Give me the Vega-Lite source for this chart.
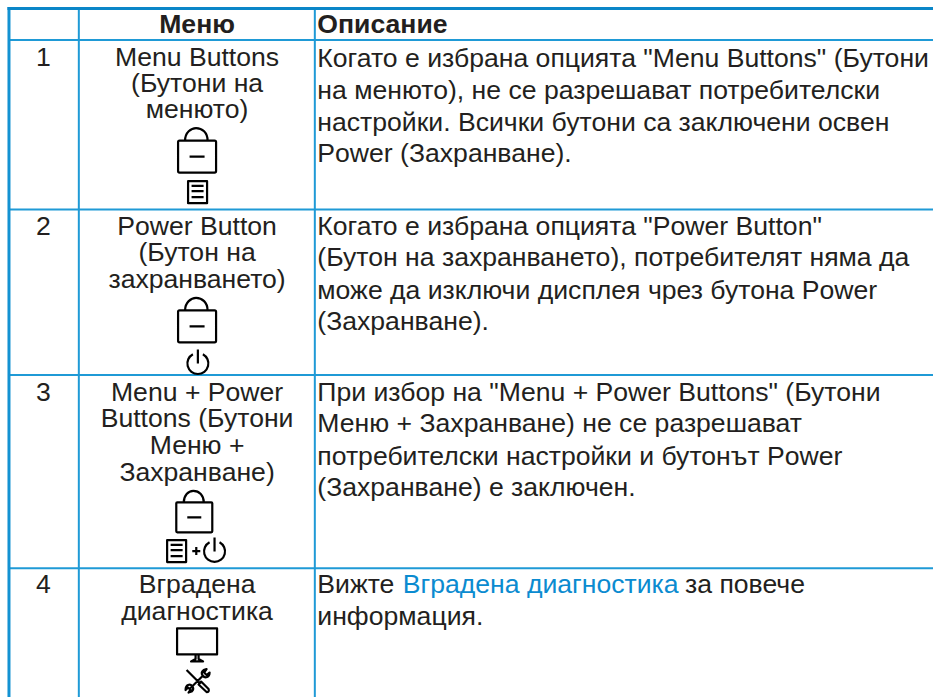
{
"$schema":"https://vega.github.io/schema/vega-lite/v6.json",
"width":935,"height":699,"padding":0,
"autosize":{"type":"fit","contains":"padding"},
"background":"#ffffff",
"config":{"view":{"stroke":null},"text":{"font":"Liberation Sans","fontSize":26.6,"color":"#231f20"}},
"datasets":{
"hlines":[
{"at":40,"from":9,"to":935},{"at":210,"from":9,"to":935},{"at":376,"from":9,"to":935},{"at":570,"from":9,"to":935}],
"vlines":[{"at":79,"from":8,"to":699},{"at":315.5,"from":8,"to":699}],
"lines":[
{"part":"header","column":"Меню","text":"Меню","x":197.5,"y":33},
{"part":"headerLeft","column":"Описание","text":"Описание","x":318,"y":33},
{"part":"center","column":"№","text":"1","x":43.5,"y":66},
{"part":"center","column":"№","text":"2","x":43.5,"y":236},
{"part":"center","column":"№","text":"3","x":43.5,"y":402},
{"part":"center","column":"№","text":"4","x":43.5,"y":595},
{"part":"center","column":"Меню","text":"Menu Buttons","x":197.5,"y":66},
{"part":"center","column":"Меню","text":"(Бутони на","x":197.5,"y":92},
{"part":"center","column":"Меню","text":"менюто)","x":197.5,"y":118},
{"part":"center","column":"Меню","text":"Power Button","x":197.5,"y":236},
{"part":"center","column":"Меню","text":"(Бутон на","x":197.5,"y":262},
{"part":"center","column":"Меню","text":"захранването)","x":197.5,"y":289},
{"part":"center","column":"Меню","text":"Menu + Power","x":197.5,"y":402},
{"part":"center","column":"Меню","text":"Buttons (Бутони","x":197.5,"y":428},
{"part":"center","column":"Меню","text":"Меню +","x":197.5,"y":455},
{"part":"center","column":"Меню","text":"Захранване)","x":197.5,"y":482},
{"part":"center","column":"Меню","text":"Вградена","x":197.5,"y":595},
{"part":"center","column":"Меню","text":"диагностика","x":197.5,"y":622},
{"part":"left","column":"Описание","text":"Когато е избрана опцията \"Menu Buttons\" (Бутони","x":318,"y":67},
{"part":"left","column":"Описание","text":"на менюто), не се разрешават потребителски","x":318,"y":99},
{"part":"left","column":"Описание","text":"настройки. Всички бутони са заключени освен","x":318,"y":131},
{"part":"left","column":"Описание","text":"Power (Захранване).","x":318,"y":162},
{"part":"left","column":"Описание","text":"Когато е избрана опцията \"Power Button\"","x":318,"y":236},
{"part":"left","column":"Описание","text":"(Бутон на захранването), потребителят няма да","x":318,"y":267},
{"part":"left","column":"Описание","text":"може да изключи дисплея чрез бутона Power","x":318,"y":300},
{"part":"left","column":"Описание","text":"(Захранване).","x":318,"y":331},
{"part":"left","column":"Описание","text":"При избор на \"Menu + Power Buttons\" (Бутони","x":318,"y":402},
{"part":"left","column":"Описание","text":"Меню + Захранване) не се разрешават","x":318,"y":433},
{"part":"left","column":"Описание","text":"потребителски настройки и бутонът Power","x":318,"y":466},
{"part":"left","column":"Описание","text":"(Захранване) е заключен.","x":318,"y":497},
{"part":"left","column":"Описание","text":"Вижте","x":318,"y":595},
{"part":"link","column":"Описание","text":"Вградена диагностика","x":403.6,"y":595},
{"part":"left","column":"Описание","text":"за повече","x":686.5,"y":595},
{"part":"left","column":"Описание","text":"информация.","x":318,"y":627}
],
"icons":[
{"icon":"lock","x":197.5,"y":157},
{"icon":"menu","x":198,"y":192.7},
{"icon":"lock","x":197.5,"y":327.3},
{"icon":"power","x":198.3,"y":364.5},
{"icon":"lockSmall","x":194.7,"y":518.8},
{"icon":"menu","x":177,"y":552.7},
{"icon":"plus","x":196.7,"y":552.7},
{"icon":"power","x":215,"y":553},
{"icon":"monitor","x":197.5,"y":643.3},
{"icon":"tools","x":198,"y":683}
]},
"layer":[
{"data":{"name":"hlines"},"mark":{"type":"rule","color":"#1f9ad6","strokeWidth":2},
"encoding":{"y":{"field":"at","type":"quantitative","scale":{"domain":[699,0],"nice":false,"zero":false},"axis":null},
"x":{"field":"from","type":"quantitative","scale":{"domain":[0,935],"nice":false,"zero":false},"axis":null},"x2":{"field":"to"}}},
{"data":{"name":"vlines"},"mark":{"type":"rule","color":"#1f9ad6","strokeWidth":2},
"encoding":{"x":{"field":"at","type":"quantitative","axis":null},"y":{"field":"from","type":"quantitative","axis":null},"y2":{"field":"to"}}},
{"data":{"values":[{"at":9,"from":7,"to":699}]},"mark":{"type":"rule","color":"#1392d2","strokeWidth":3},
"encoding":{"x":{"field":"at","type":"quantitative","axis":null},"y":{"field":"from","type":"quantitative","axis":null},"y2":{"field":"to"}}},
{"data":{"values":[{"at":8.5,"from":7.5,"to":935}]},"mark":{"type":"rule","color":"#0a86c8","strokeWidth":3},
"encoding":{"y":{"field":"at","type":"quantitative","axis":null},"x":{"field":"from","type":"quantitative","axis":null},"x2":{"field":"to"}}},
{"data":{"name":"lines"},"transform":[{"filter":"datum.part==='header'"}],"mark":{"type":"text","align":"center","baseline":"alphabetic","fontWeight":"bold"},
"encoding":{"x":{"field":"x","type":"quantitative","axis":null},"y":{"field":"y","type":"quantitative","axis":null},"text":{"field":"text"}}},
{"data":{"name":"lines"},"transform":[{"filter":"datum.part==='headerLeft'"}],"mark":{"type":"text","align":"left","baseline":"alphabetic","fontWeight":"bold"},
"encoding":{"x":{"field":"x","type":"quantitative","axis":null},"y":{"field":"y","type":"quantitative","axis":null},"text":{"field":"text"}}},
{"data":{"name":"lines"},"transform":[{"filter":"datum.part==='center'"}],"mark":{"type":"text","align":"center","baseline":"alphabetic"},
"encoding":{"x":{"field":"x","type":"quantitative","axis":null},"y":{"field":"y","type":"quantitative","axis":null},"text":{"field":"text"}}},
{"data":{"name":"lines"},"transform":[{"filter":"datum.part==='left'"}],"mark":{"type":"text","align":"left","baseline":"alphabetic"},
"encoding":{"x":{"field":"x","type":"quantitative","axis":null},"y":{"field":"y","type":"quantitative","axis":null},"text":{"field":"text"}}},
{"data":{"name":"lines"},"transform":[{"filter":"datum.part==='link'"}],"mark":{"type":"text","align":"left","baseline":"alphabetic","color":"#0b8bd0"},
"encoding":{"x":{"field":"x","type":"quantitative","axis":null},"y":{"field":"y","type":"quantitative","axis":null},"text":{"field":"text"}}},
{"data":{"name":"icons"},"mark":{"type":"point","filled":false,"stroke":"#000000","opacity":1,"size":4,"strokeJoin":"round"},
"encoding":{"x":{"field":"x","type":"quantitative","axis":null},"y":{"field":"y","type":"quantitative","axis":null},
"shape":{"field":"icon","type":"nominal","legend":null,"scale":{"domain":["lock","lockSmall","menu","power","plus","monitor","tools"],"range":[
"M-17.5,-16H17.5Q19,-16 19,-14.5V14.5Q19,16 17.5,16H-17.5Q-19,16 -19,14.5V-14.5Q-19,-16 -17.5,-16ZM-12,-16C-12,-24 -6,-28.5 -1,-28.5C5,-28.5 10.5,-24 10.5,-16M-7.5,0H7.5",
"M-17,-15H17Q18,-15 18,-14V14Q18,15 17,15H-17Q-18,15 -18,14V-14Q-18,-15 -17,-15ZM-10.5,-15C-10.5,-22 -6,-26.5 -1,-26.5C5,-26.5 9.5,-22 9.5,-15M-7,0H7",
"M-9.5,-11H9.5V11H-9.5ZM-6,-6.2H6M-6,-1H6M-6,5H6",
"M-5,-9.2A10.5,10.5 0 1 0 5,-9.2M0,-14V0",
"M-4,0H4M0,-4V4",
"M-20,-13H20V13H-20ZM-1.5,13L-1.5,17.5L-6,20H6L1.5,17.5L1.5,13Z",
"M-11,-11L3,3M3.5,0.5L11,8Q12,11 9,11L1,3.5ZM-8,8L6,-6M5,-5.5Q3,-9 6,-11L9,-12L6.5,-8.5L9,-6L12,-8.5Q12,-5 9.5,-4Q7,-3 5,-5.5ZM-5.5,5Q-3,8 -6,10.5L-9,11.5L-7,8.5L-9.5,6.5L-12,9Q-12,5 -9.5,4Q-7,3 -5.5,5Z"
]}},
"strokeWidth":{"field":"icon","type":"ordinal","legend":null,"scale":{"domain":["lock","lockSmall","menu","power","plus","monitor","tools"],"range":[2.2,2.2,3,1.8,2,2.6,1.1]}}
}}
]
}
